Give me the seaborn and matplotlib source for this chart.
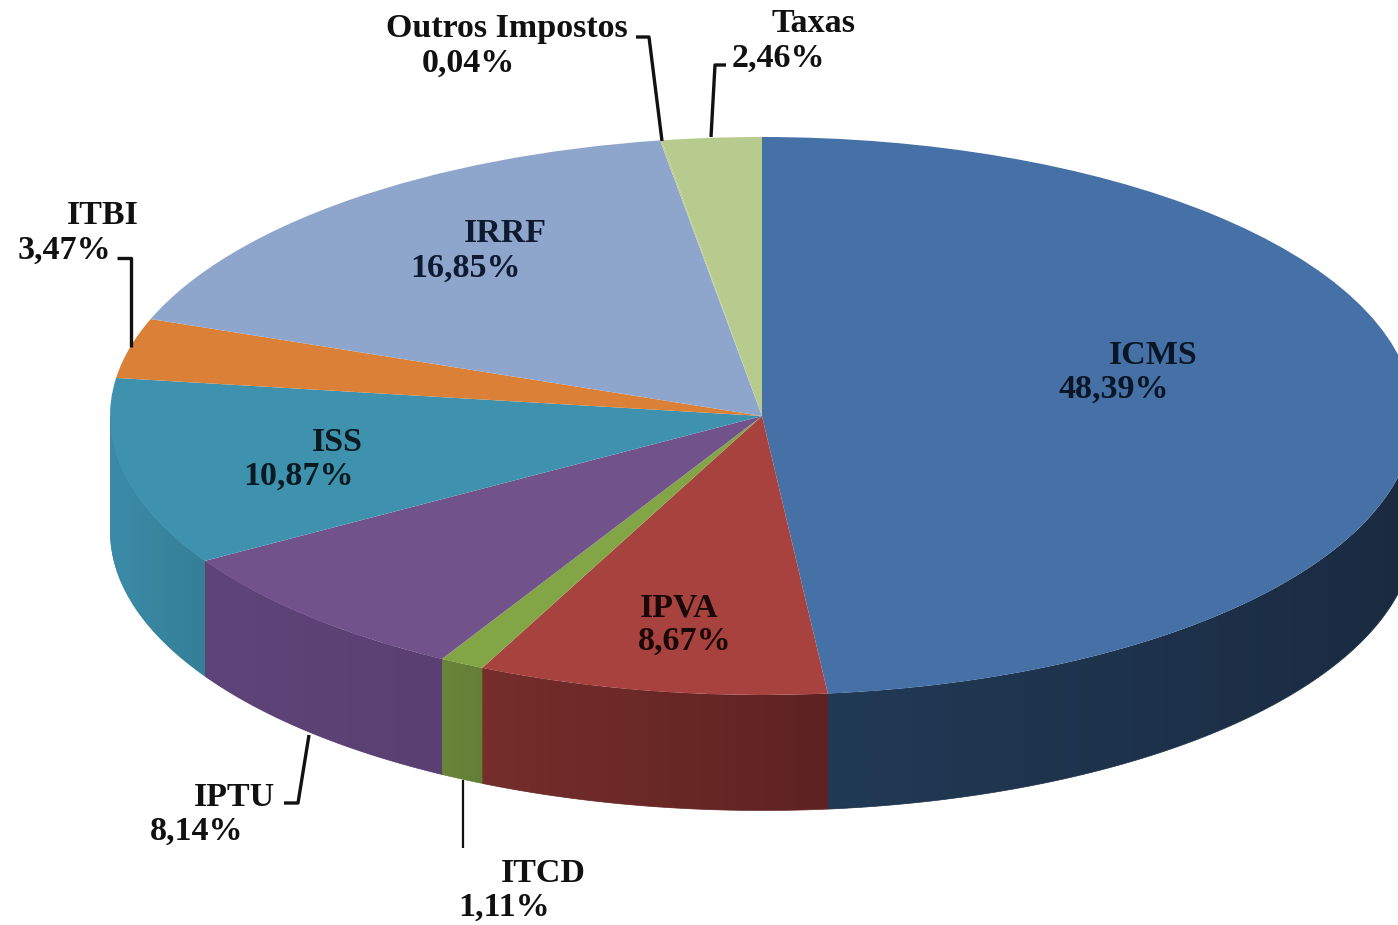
import numpy as np
import seaborn as sns
import matplotlib.pyplot as plt

# dados do grafico
categorias = ['ICMS', 'IPVA', 'ITCD', 'IPTU', 'ISS', 'ITBI', 'IRRF', 'Outros Impostos', 'Taxas']
valores = [48.39, 8.67, 1.11, 8.14, 10.87, 3.47, 16.85, 0.04, 2.46]
rotulos = ['48,39%', '8,67%', '1,11%', '8,14%', '10,87%', '3,47%', '16,85%', '0,04%', '2,46%']

# cores do topo e da parede lateral (da direita para a esquerda)
cores_topo = ['#4571A6', '#A8423F', '#82A545', '#72528B', '#3E92AE', '#DA8137', '#8EA5CC', '#B8CB8F', '#B8CB8F']
parede_ini = ['#1A2B41', '#5E2321', '#667F38', '#5A3F72', '#357F98', '#000000', '#000000', '#000000', '#000000']
parede_fim = ['#213A56', '#752E2C', '#6A8439', '#5E4478', '#3B8BA8', '#000000', '#000000', '#000000', '#000000']

# geometria da elipse em pixels
W, H = 1398, 925
CX, CY, RX, RY, ALTURA = 762, 416, 652, 279, 115

sns.set_theme(style='white')
plt.rcParams['font.family'] = ['Liberation Serif', 'DejaVu Serif']

fig = plt.figure(figsize=(W / 100, H / 100), dpi=100, facecolor='white')
ax = fig.add_axes([0, 0, 1, 1])

ax.pie(valores, colors=cores_topo, startangle=90, counterclock=False, radius=1,
       wedgeprops={'linewidth': 0}, normalize=True)


def px(x, y):
    return (x - CX) / RX, (CY - y) / RY


# parede lateral, so a metade da frente
limites = np.concatenate([[0], np.cumsum(valores)]) / np.sum(valores) * 360
for i in range(len(valores)):
    a0, a1 = max(limites[i], 90), min(limites[i + 1], 270)
    if a1 <= a0:
        continue
    t = np.radians(np.linspace(a0, a1, 200))
    xs = np.sin(t)
    topo = np.cos(t)
    tons = sns.blend_palette([parede_ini[i], parede_fim[i]], 64)
    base = ax.fill_between(xs, topo, topo - ALTURA / RY, color=tons[32], linewidth=0.5, zorder=0.5)
    # degrade horizontal recortado pela forma da parede
    grad = np.array(tons)[None, ::-1, :]
    img = ax.imshow(grad, extent=(xs.min(), xs.max(), (topo - ALTURA / RY).min(), topo.max()),
                    aspect='auto', origin='lower', zorder=0.6, interpolation='bilinear')
    img.set_clip_path(base.get_paths()[0], transform=ax.transData)

ax.set_aspect('auto')
ax.set_xlim((0 - CX) / RX, (W - CX) / RX)
ax.set_ylim((CY - H) / RY, CY / RY)

# linhas de chamada
chamadas = [
    [(636, 37), (649, 37), (662, 141), 2.4],
    [(726, 65), (715, 65), (711, 137), 2.4],
    [(117, 258), (131, 258), (131, 347), 2.4],
    [(284, 803), (298, 803), (309, 735), 2.4],
    [(463, 780), (463, 848), 1.6],
]
for c in chamadas:
    pts = np.array([px(x, y) for x, y in c[:-1]])
    ax.plot(pts[:, 0], pts[:, 1], color='#111111', lw=c[-1], zorder=4, solid_capstyle='butt')

# posicoes dos textos (nome, valor)
pos_nome = [(1153, 355), (679, 608), (543, 873), (235, 797), (337, 442), (103, 216), (505, 234), (507, 29), (813, 23)]
pos_valor = [(1114, 389), (685, 641), (504, 907), (197, 831), (299, 476), (64, 250), (466, 268), (468, 63), (778, 58)]
cor_txt = ['#0A1626', '#1A0808', '#111111', '#111111', '#0A1A22', '#111111', '#0E1A30', '#111111', '#111111']

for i in range(len(categorias)):
    x, y = px(*pos_nome[i])
    ax.text(x, y, categorias[i], ha='center', va='center', fontsize=24.5, fontweight='bold', color=cor_txt[i], zorder=5)
    x, y = px(*pos_valor[i])
    ax.text(x, y, rotulos[i], ha='center', va='center', fontsize=24.5, fontweight='bold', color=cor_txt[i], zorder=5)

fig.savefig('out.png', dpi=100, facecolor='white')
